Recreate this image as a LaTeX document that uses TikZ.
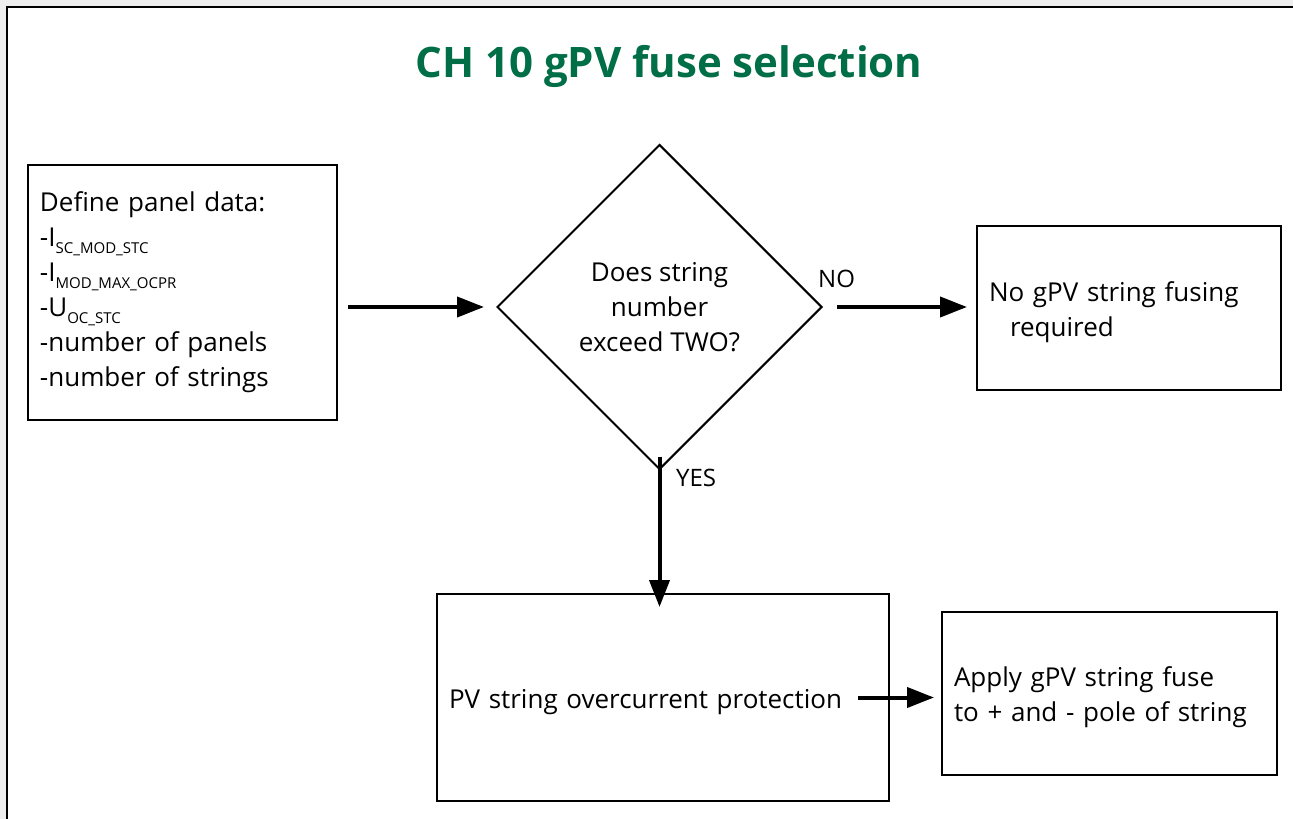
\documentclass[tikz,border=0pt]{standalone}
\usepackage{fontspec}
\setmainfont{Open Sans}
\usetikzlibrary{shapes.geometric,arrows.meta}
\definecolor{titlegreen}{RGB}{0,110,70}
\definecolor{pagegray}{RGB}{238,238,238}
\newcommand{\bodyfont}{\fontsize{26bp}{35bp}\selectfont}
\newcommand{\subtxt}[1]{\raisebox{-0.45ex}{\fontsize{15bp}{15bp}\selectfont #1}}
\newcommand{\downstrut}[1]{\rule{0pt}{#1}}
\begin{document}
\begin{tikzpicture}[x=1bp,y=-1bp,
  box/.style={draw=black,line width=2bp,rectangle,inner xsep=12bp,inner ysep=0bp,align=left,font=\bodyfont},
  decision/.style={draw=black,line width=2bp,diamond,aspect=1,inner sep=0bp,align=center,font=\bodyfont},
  arr/.style={line width=4bp,-{Triangle[length=27bp,width=20bp]}},
  tag/.style={font=\fontsize{24bp}{24bp}\selectfont,inner sep=0bp,anchor=base west}]
\useasboundingbox (0,0) rectangle (1293,819);
\fill[pagegray] (0,0) rectangle (1293,819);
\fill[white] (7,7) rectangle (1293,819);
\draw[line width=1.2bp] (7,819) -- (7,7) -- (1293,7);
\node[font=\fontsize{42bp}{45bp}\selectfont\bfseries,text=titlegreen,inner sep=0bp,anchor=base] (title) at (669,78) {CH 10 gPV fuse selection};
\node[box,minimum width=309bp,minimum height=255bp,text width=285bp] (b1) at (182.5,292.5)
  {Define panel data:\\
   -I\subtxt{SC\_MOD\_STC}\\
   -I\subtxt{MOD\_MAX\_OCPR}\\
   -U\subtxt{OC\_STC}\\
   -number of panels\\
   -number of strings};
\node[decision,minimum size=325bp] (dia) at (659.5,307) {Does string\\number\\exceed TWO?};
\node[box,minimum width=304bp,minimum height=164bp,text width=280bp] (b2) at (1129,308)
  {\downstrut{29bp}No gPV string fusing\\\hspace*{21bp}required};
\node[box,minimum width=452bp,minimum height=207bp,text width=428bp] (b3) at (663,697.5)
  {\downstrut{28bp}PV string overcurrent protection};
\node[box,minimum width=335bp,minimum height=163bp,text width=311bp] (b4) at (1109.5,693.5)
  {\downstrut{28bp}Apply gPV string fuse\\to + and - pole of string};
\node[tag] (no) at (818,287) {NO};
\node[tag] (yes) at (676,486) {YES};
\coordinate (b3out) at ([xshift=-32bp]b3.east);
\draw[arr] ([xshift=10bp]b1.east |- dia.west) -- ([xshift=-12bp]dia.west);
\draw[arr] ([xshift=14bp]dia.east) -- ([xshift=-9bp]b2.west |- dia.east);
\draw[arr] ([yshift=14bp]dia.south) -- ([yshift=-14bp]dia.south |- b3.north);
\draw[arr] (b3out |- b3.center) -- ([xshift=-7bp]b4.west |- b3.center);
\end{tikzpicture}
\end{document}
